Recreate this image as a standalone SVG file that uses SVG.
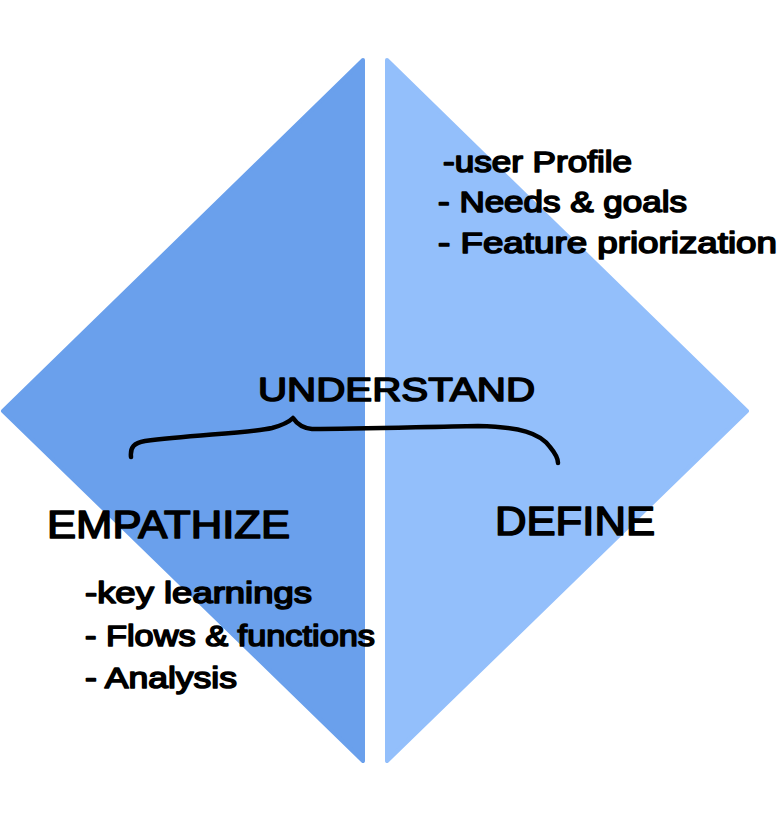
<svg xmlns="http://www.w3.org/2000/svg" width="780" height="822" viewBox="0 0 780 822">
<style>
.hand{font-family:"Liberation Sans","DejaVu Sans",sans-serif;fill:#000;stroke:#000;stroke-width:1.6;stroke-linejoin:round}
.title{font-size:38px}
.item{font-size:30px}
.tri{stroke-width:4;stroke-linejoin:round}
</style>
<rect width="780" height="822" fill="#fff"/>
<g id="empathize-shape">
<polygon class="tri" points="363,60 3,411 363,761" fill="#6aa0ec" stroke="#6aa0ec"/>
</g>
<g id="define-shape">
<polygon class="tri" points="387,60 747,411 387,761" fill="#93bffb" stroke="#93bffb"/>
</g>
<g id="connectors">
<path d="M131,457 C130,447 134,443 145,441 C190,435 250,433 272,428 C283,425 290,421 293,418 C297,424 302,428 312,429 C360,429 420,427 478,426 C520,427 540,433 550,447 C555,453 558,458 558,463" fill="none" stroke="#000" stroke-width="4.5" stroke-linecap="round" stroke-linejoin="round"/>
</g>
<g id="understand">
<text class="hand title" x="258" y="401" font-size="34" textLength="277" lengthAdjust="spacingAndGlyphs" style="font-size:34px">UNDERSTAND</text>
</g>
<g id="empathize">
<text class="hand title" x="47" y="538" textLength="243" lengthAdjust="spacingAndGlyphs">EMPATHIZE</text>
<text class="hand item" x="85" y="603" textLength="227" lengthAdjust="spacingAndGlyphs">-key learnings</text>
<text class="hand item" x="85" y="646" textLength="290" lengthAdjust="spacingAndGlyphs">- Flows &amp; functions</text>
<text class="hand item" x="85" y="688" textLength="152" lengthAdjust="spacingAndGlyphs">- Analysis</text>
</g>
<g id="define">
<text class="hand title" x="495" y="535" style="font-size:40px" textLength="160" lengthAdjust="spacingAndGlyphs">DEFINE</text>
<text class="hand item" x="443" y="172" textLength="189" lengthAdjust="spacingAndGlyphs">-user Profile</text>
<text class="hand item" x="438" y="212" textLength="249" lengthAdjust="spacingAndGlyphs">- Needs &amp; goals</text>
<text class="hand item" x="438" y="253" textLength="339" lengthAdjust="spacingAndGlyphs">- Feature priorization</text>
</g>
</svg>
